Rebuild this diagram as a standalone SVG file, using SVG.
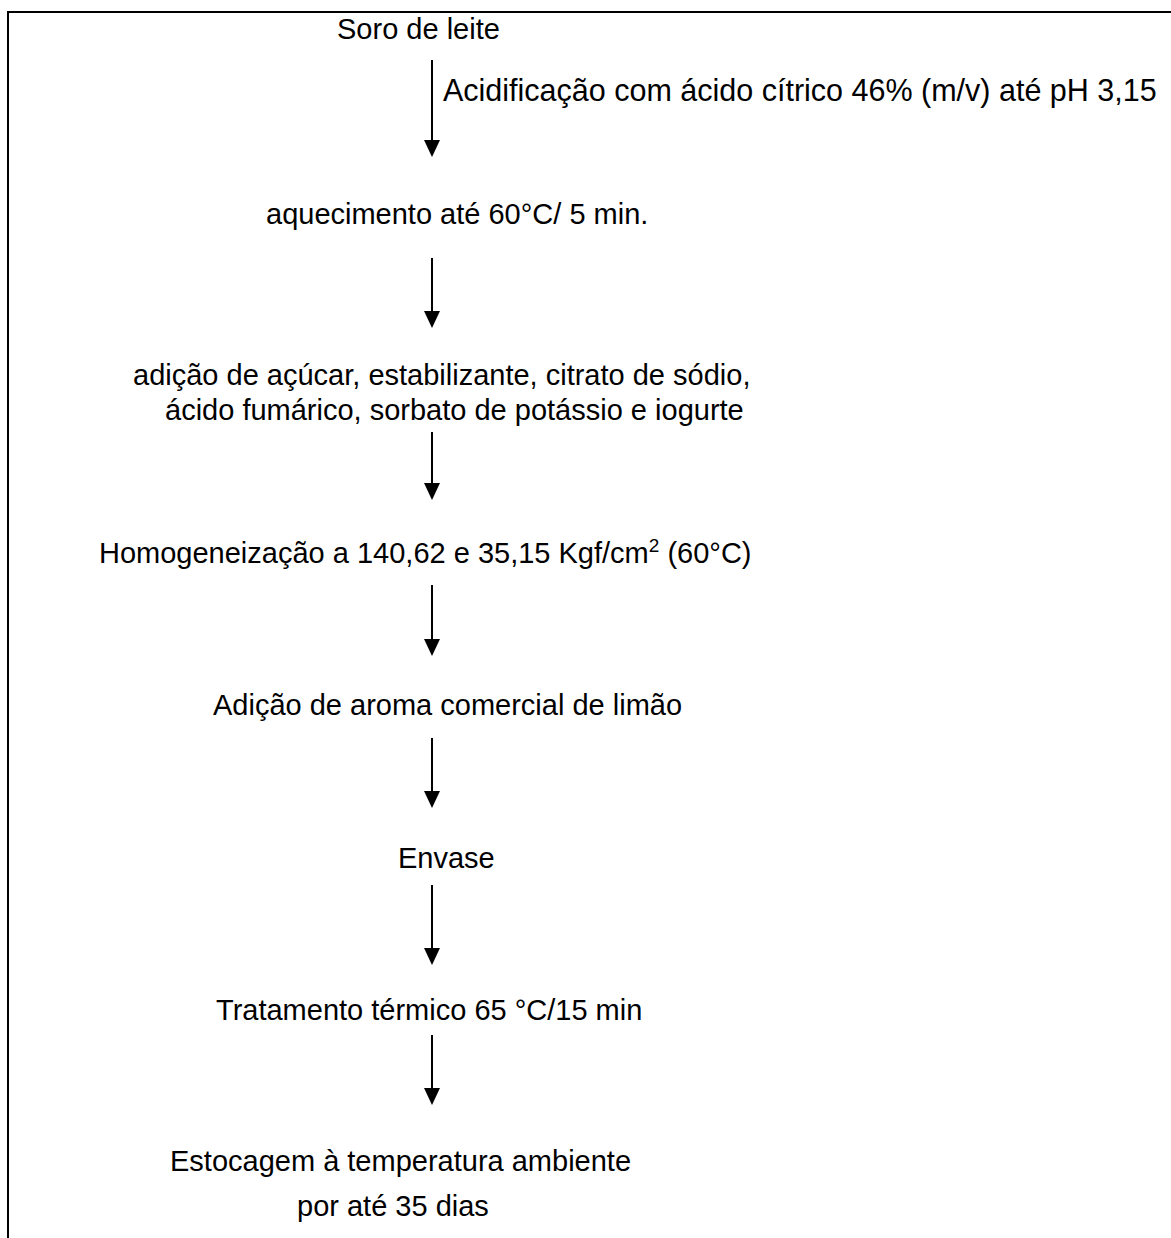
<svg xmlns="http://www.w3.org/2000/svg" width="1171" height="1238" viewBox="0 0 1171 1238">
<defs>
<style>
text{font-family:"Liberation Sans",Arial,sans-serif;font-size:29px;fill:#000}
.c{stroke:#000;stroke-width:2;fill:none}
.b{stroke:#000;stroke-width:2;fill:none}
.h{fill:#000}
</style>
</defs>
<rect width="1171" height="1238" fill="#fff"/>
<path class="b" d="M8,1238 V12 H1171"/>
<g id="connectors">
<line class="c" x1="432" y1="60" x2="432" y2="141"/><path class="h" d="M424,140 L440,140 L432,157 Z"/>
<line class="c" x1="432" y1="258" x2="432" y2="312"/><path class="h" d="M424,311 L440,311 L432,328 Z"/>
<line class="c" x1="432" y1="432" x2="432" y2="484"/><path class="h" d="M424,483 L440,483 L432,500 Z"/>
<line class="c" x1="432" y1="585" x2="432" y2="640"/><path class="h" d="M424,639 L440,639 L432,656 Z"/>
<line class="c" x1="432" y1="738" x2="432" y2="792"/><path class="h" d="M424,791 L440,791 L432,808 Z"/>
<line class="c" x1="432" y1="885" x2="432" y2="949"/><path class="h" d="M424,948 L440,948 L432,965 Z"/>
<line class="c" x1="432" y1="1035" x2="432" y2="1089"/><path class="h" d="M424,1088 L440,1088 L432,1105 Z"/>
</g>
<g id="n1"><text x="337" y="39">Soro de leite</text></g>
<g id="n1l"><text x="443" y="101" style="font-size:30.5px">Acidificação com ácido cítrico 46% (m/v) até pH 3,15</text></g>
<g id="n2"><text x="266" y="224">aquecimento até 60°C/ 5 min.</text></g>
<g id="n3"><text x="133" y="385">adição de açúcar, estabilizante, citrato de sódio,</text><text x="165" y="420">ácido fumárico, sorbato de potássio e iogurte</text></g>
<g id="n4"><text x="99" y="563">Homogeneização a 140,62 e 35,15 Kgf/cm<tspan font-size="19" dy="-11">2</tspan><tspan dy="11"> (60°C)</tspan></text></g>
<g id="n5"><text x="213" y="715">Adição de aroma comercial de limão</text></g>
<g id="n6"><text x="398" y="868">Envase</text></g>
<g id="n7"><text x="216" y="1020">Tratamento térmico 65 °C/15 min</text></g>
<g id="n8"><text x="170" y="1171">Estocagem à temperatura ambiente</text><text x="297" y="1216">por até 35 dias</text></g>
</svg>
